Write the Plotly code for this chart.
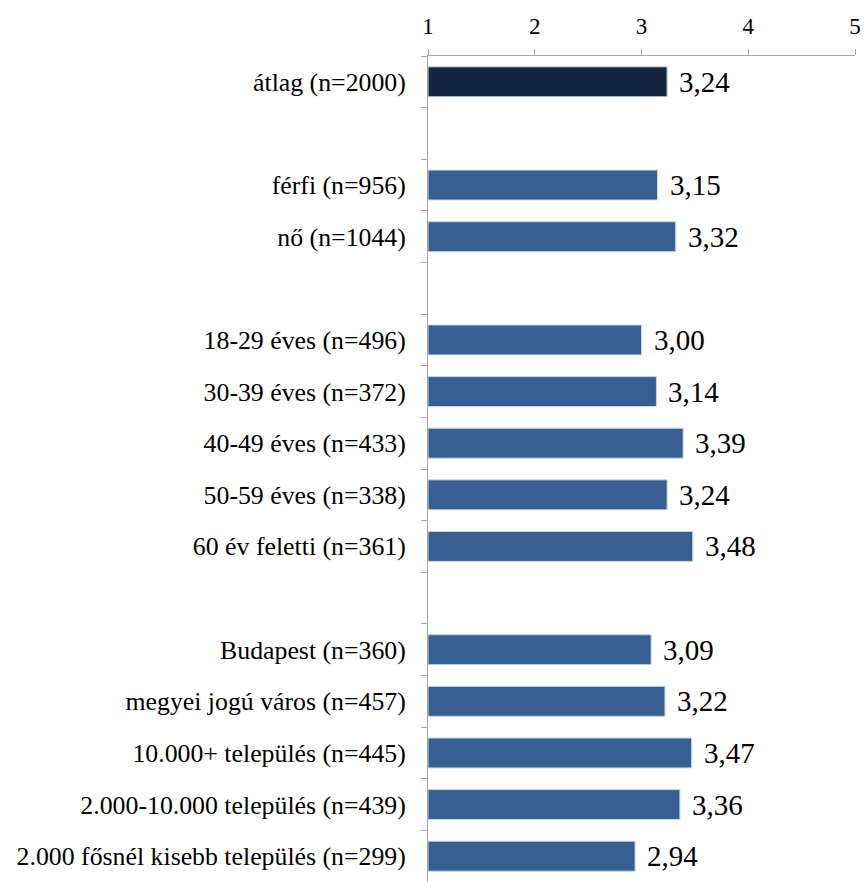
import plotly.graph_objects as go

categories = [
    "átlag (n=2000)", " ",
    "férfi (n=956)", "nő (n=1044)", "  ",
    "18-29 éves (n=496)", "30-39 éves (n=372)", "40-49 éves (n=433)",
    "50-59 éves (n=338)", "60 év feletti (n=361)", "   ",
    "Budapest (n=360)", "megyei jogú város (n=457)", "10.000+ település (n=445)",
    "2.000-10.000 település (n=439)", "2.000 fősnél kisebb település (n=299)",
]
values = [3.24, None, 3.15, 3.32, None, 3.00, 3.14, 3.39, 3.24, 3.48, None,
          3.09, 3.22, 3.47, 3.36, 2.94]
x_ticks = [1, 2, 3, 4, 5]
scale_min = 1

colors = ["#14263F" if i == 0 else "#376092" for i in range(len(categories))]
lengths = [None if v is None else v - scale_min for v in values]

font_family = "Liberation Serif"

fig = go.Figure()
fig.add_trace(go.Bar(
    y=categories, x=lengths, base=scale_min, orientation="h",
    marker=dict(color=colors, line=dict(color="#C9D6E8", width=1)),
    width=0.58, hoverinfo="skip",
))

for c, v in zip(categories, values):
    if v is None:
        continue
    fig.add_annotation(
        x=v, y=c, xref="x", yref="y", text=f"{v:.2f}".replace(".", ","),
        showarrow=False, xanchor="left", xshift=10,
        font=dict(family=font_family, size=29, color="#000000"),
    )

fig.update_layout(
    width=865, height=882,
    margin=dict(l=428, r=10, t=56, b=0, autoexpand=False),
    paper_bgcolor="white", plot_bgcolor="white",
    showlegend=False,
    font=dict(family=font_family, color="#000000"),
)
fig.update_xaxes(
    range=[1, 5], side="top", tickvals=x_ticks, ticktext=[str(t) for t in x_ticks],
    showgrid=False, zeroline=False, showline=True, linecolor="#A6A6A6", linewidth=1,
    ticks="outside", ticklen=6, tickcolor="#A6A6A6", automargin=False,
    ticklabelstandoff=6, ticklabeloverflow="allow",
    tickfont=dict(family=font_family, size=23, color="#000000"),
)
fig.update_yaxes(
    type="category", categoryorder="array", categoryarray=categories,
    autorange="reversed", tickson="boundaries",
    showgrid=False, zeroline=False, showline=True, linecolor="#A6A6A6", linewidth=1,
    ticks="outside", ticklen=6, tickcolor="#A6A6A6", automargin=False,
    ticklabelstandoff=16,
    tickfont=dict(family=font_family, size=25.8, color="#000000"),
)

fig.write_html(
    "out.html",
    config={"displayModeBar": False},
    post_script="document.body.style.margin='0';document.body.style.overflow='hidden';",
)
